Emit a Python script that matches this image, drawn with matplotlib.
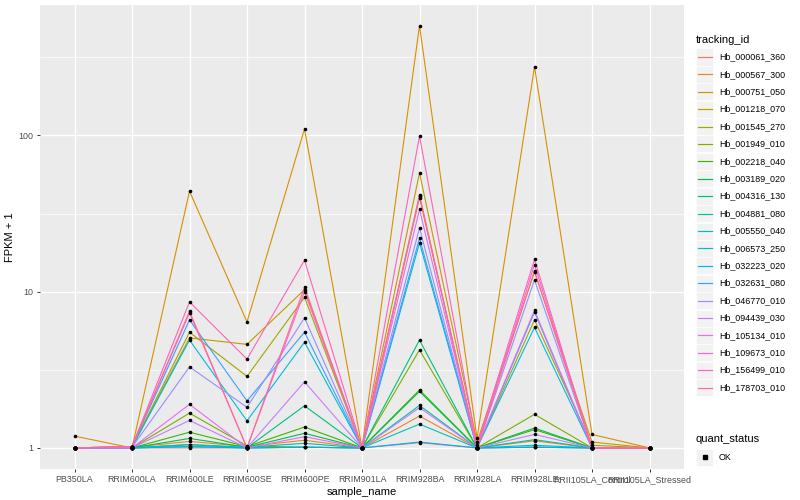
import matplotlib
matplotlib.use("Agg")
import matplotlib.pyplot as plt
from matplotlib.patches import Rectangle
from matplotlib.lines import Line2D
import numpy as np

plt.rcParams['font.family'] = ['Liberation Sans', 'DejaVu Sans']

# sample order on the x axis
samples = ["PB350LA", "RRIM600LA", "RRIM600LE", "RRIM600SE", "RRIM600PE",
           "RRIM901LA", "RRIM928BA", "RRIM928LA", "RRIM928LE",
           "RRII105LA_Control", "RRII105LA_Stressed"]

tracking_ids = ["Hb_000061_360", "Hb_000567_300", "Hb_000751_050", "Hb_001218_070",
                "Hb_001545_270", "Hb_001949_010", "Hb_002218_040", "Hb_003189_020",
                "Hb_004316_130", "Hb_004881_080", "Hb_005550_040", "Hb_006573_250",
                "Hb_032223_020", "Hb_032631_080", "Hb_046770_010", "Hb_094439_030",
                "Hb_105134_010", "Hb_109673_010", "Hb_156499_010", "Hb_178703_010"]

# ggplot default hue palette for 20 levels
colors = ["#F8766D", "#EA8331", "#D89000", "#C09B00", "#A3A500", "#7CAE00",
          "#39B600", "#00BB4E", "#00BF7D", "#00C1A3", "#00BFC4", "#00BAE0",
          "#00B0F6", "#35A2FF", "#9590FF", "#C77CFF", "#E76BF3", "#FA62DB",
          "#FF62BC", "#FF6C91"]

# FPKM + 1, one row per tracking id, one column per sample
fpkm = [
    [1.00, 1.00, 1.00, 1.00, 1.01, 1.00, 1.08, 1.00, 1.01, 1.00, 1.00],   # 000061
    [1.00, 1.01, 1.10, 1.02, 1.12, 1.00, 1.60, 1.00, 1.11, 1.00, 1.00],   # 000567
    [1.19, 1.00, 44.0, 6.40, 110., 1.00, 505., 1.15, 275., 1.22, 1.00],   # 000751
    [1.00, 1.02, 5.06, 4.60, 10.3, 1.00, 57.6, 1.09, 13.4, 1.09, 1.00],   # 001218
    [1.00, 1.01, 5.50, 2.87, 9.20, 1.00, 40.0, 1.00, 6.60, 1.04, 1.00],   # 001545
    [1.00, 1.00, 1.67, 1.03, 1.01, 1.00, 4.24, 1.00, 1.64, 1.00, 1.00],   # 001949
    [1.00, 1.00, 1.26, 1.02, 1.36, 1.00, 2.35, 1.00, 1.31, 1.00, 1.00],   # 002218
    [1.00, 1.00, 1.15, 1.01, 1.24, 1.00, 2.30, 1.00, 1.34, 1.00, 1.00],   # 003189
    [1.00, 1.00, 1.05, 1.00, 1.86, 1.00, 4.90, 1.00, 1.01, 1.00, 1.00],   # 004316
    [1.00, 1.00, 1.05, 1.01, 1.07, 1.00, 1.87, 1.00, 1.13, 1.00, 1.00],   # 004881
    [1.00, 1.00, 1.02, 1.00, 1.01, 1.00, 1.42, 1.00, 1.04, 1.00, 1.00],   # 005550
    [1.00, 1.01, 4.90, 1.49, 4.75, 1.00, 20.5, 1.00, 5.90, 1.00, 1.00],   # 006573
    [1.00, 1.00, 1.02, 1.00, 1.01, 1.00, 1.09, 1.00, 1.01, 1.00, 1.00],   # 032223
    [1.00, 1.02, 6.60, 2.00, 5.50, 1.00, 22.0, 1.00, 7.40, 1.00, 1.00],   # 032631
    [1.00, 1.01, 3.30, 1.82, 6.80, 1.00, 25.6, 1.00, 11.9, 1.00, 1.00],   # 046770
    [1.00, 1.00, 1.50, 1.00, 2.65, 1.00, 1.81, 1.00, 1.22, 1.00, 1.00],   # 094439
    [1.00, 1.00, 1.90, 1.00, 1.18, 1.00, 33.6, 1.00, 7.60, 1.00, 1.00],   # 105134
    [1.00, 1.02, 7.30, 1.00, 10.0, 1.00, 40.8, 1.00, 14.9, 1.00, 1.00],   # 109673
    [1.00, 1.02, 8.60, 3.70, 15.9, 1.00, 99.0, 1.04, 16.1, 1.00, 1.00],   # 156499
    [1.00, 1.02, 7.50, 1.00, 10.7, 1.00, 41.7, 1.00, 13.6, 1.00, 1.00],   # 178703
]

fig = plt.figure(figsize=(8, 5), dpi=100)
ax = fig.add_axes([40 / 800, 1 - 469 / 500, 644 / 800, 464 / 500])
ax.set_facecolor("#EBEBEB")
for s in ax.spines.values():
    s.set_visible(False)

x = np.arange(len(samples))
for vals, c in zip(fpkm, colors):
    ax.plot(x, vals, color=c, lw=0.8, zorder=2)
for vals in fpkm:
    ax.plot(x, vals, ls="none", marker="o", ms=2.6, mew=0, color="black", zorder=3)

ax.set_yscale("log")
ax.set_ylim(10 ** -0.135, 10 ** 2.835)
ax.set_xlim(-0.6, len(samples) - 0.4)
ax.set_yticks([1, 10, 100])
ax.set_yticklabels(["1", "10", "100"])
ax.set_yticks([10 ** 0.5, 10 ** 1.5, 10 ** 2.5], minor=True)
ax.yaxis.set_minor_formatter(plt.NullFormatter())
ax.set_xticks(x)
ax.set_xticklabels(samples)
ax.grid(which="major", color="white", lw=1.0, zorder=0)
ax.grid(which="minor", axis="y", color="white", lw=0.5, zorder=0)
ax.set_axisbelow(True)
ax.tick_params(which="major", length=2.5, width=0.7, color="#333333",
               labelsize=6.4, labelcolor="#4D4D4D", pad=2)
ax.tick_params(which="minor", length=0)
ax.set_xlabel("sample_name", fontsize=8, labelpad=2)
ax.set_ylabel("FPKM + 1", fontsize=8, labelpad=3)

# legend drawn by hand in ggplot style
def fx(px):
    return px / 800

def fy(py):
    return 1 - py / 500

fig.text(fx(696), fy(40), "tracking_id", fontsize=8, va="center", ha="left")
for i, (tid, c) in enumerate(zip(tracking_ids, colors)):
    yc = 57 + i * 17.4
    fig.patches.append(Rectangle((fx(696), fy(yc + 8.5)), 17 / 800, 17 / 500,
                                 transform=fig.transFigure, facecolor="#F2F2F2",
                                 edgecolor="white", lw=0.5))
    fig.lines.append(Line2D([fx(698), fx(712)], [fy(yc), fy(yc)],
                            transform=fig.transFigure, color=c, lw=0.85))
    fig.text(fx(719), fy(yc), tid, fontsize=6.4, va="center", ha="left")

fig.text(fx(696), fy(439), "quant_status", fontsize=8, va="center", ha="left")
fig.patches.append(Rectangle((fx(696), fy(457 + 8.5)), 17 / 800, 17 / 500,
                             transform=fig.transFigure, facecolor="#F2F2F2",
                             edgecolor="white", lw=0.5))
fig.lines.append(Line2D([fx(704.5)], [fy(457)], transform=fig.transFigure,
                        marker="s", ms=2.6, color="black", ls="none"))
fig.text(fx(719), fy(457), "OK", fontsize=6.4, va="center", ha="left")

fig.savefig("out.png", dpi=100)
